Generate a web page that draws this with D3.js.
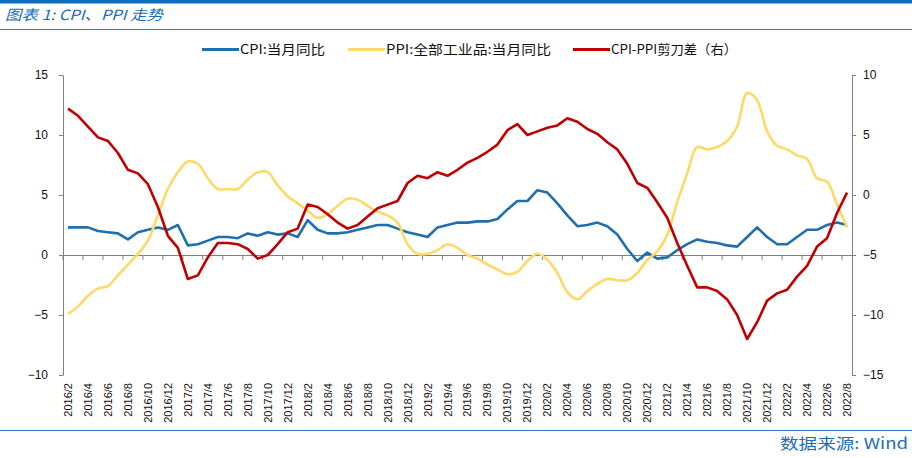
<!DOCTYPE html>
<html>
<head>
<meta charset="utf-8">
<script src="https://cdn.jsdelivr.net/npm/d3@7.9.0/dist/d3.min.js"></script>
<style>
  body { margin: 0; background: #fff; }
  svg { display: block; }
  .axis text { font-family: "Liberation Sans Narrow", "Liberation Sans", Arial, sans-serif; font-size: 12px; fill: #111; }
  .axis path, .axis line { stroke: #808080; }
</style>
</head>
<body>
<svg id="chart" width="912" height="458"></svg>
<script>
const months = [
  '2016/2','2016/3','2016/4','2016/5','2016/6','2016/7','2016/8','2016/9','2016/10','2016/11','2016/12',
  '2017/1','2017/2','2017/3','2017/4','2017/5','2017/6','2017/7','2017/8','2017/9','2017/10','2017/11','2017/12',
  '2018/1','2018/2','2018/3','2018/4','2018/5','2018/6','2018/7','2018/8','2018/9','2018/10','2018/11','2018/12',
  '2019/1','2019/2','2019/3','2019/4','2019/5','2019/6','2019/7','2019/8','2019/9','2019/10','2019/11','2019/12',
  '2020/1','2020/2','2020/3','2020/4','2020/5','2020/6','2020/7','2020/8','2020/9','2020/10','2020/11','2020/12',
  '2021/1','2021/2','2021/3','2021/4','2021/5','2021/6','2021/7','2021/8','2021/9','2021/10','2021/11','2021/12',
  '2022/1','2022/2','2022/3','2022/4','2022/5','2022/6','2022/7','2022/8'
];

const cpi = [
  2.3, 2.3, 2.3, 2.0, 1.9, 1.8, 1.3, 1.9, 2.1, 2.3, 2.1,
  2.5, 0.8, 0.9, 1.2, 1.5, 1.5, 1.4, 1.8, 1.6, 1.9, 1.7, 1.8,
  1.5, 2.9, 2.1, 1.8, 1.8, 1.9, 2.1, 2.3, 2.5, 2.5, 2.2, 1.9,
  1.7, 1.5, 2.3, 2.5, 2.7, 2.7, 2.8, 2.8, 3.0, 3.8, 4.5, 4.5,
  5.4, 5.2, 4.3, 3.3, 2.4, 2.5, 2.7, 2.4, 1.7, 0.5, -0.5, 0.2,
  -0.3, -0.2, 0.4, 0.9, 1.3, 1.1, 1.0, 0.8, 0.7, 1.5, 2.3, 1.5,
  0.9, 0.9, 1.5, 2.1, 2.1, 2.5, 2.7, 2.5
];

const ppi = [
  -4.9, -4.3, -3.4, -2.8, -2.6, -1.7, -0.8, 0.1, 1.2, 3.3, 5.5,
  6.9, 7.8, 7.6, 6.4, 5.5, 5.5, 5.5, 6.3, 6.9, 6.9, 5.8, 4.9,
  4.3, 3.7, 3.1, 3.4, 4.1, 4.7, 4.6, 4.1, 3.6, 3.3, 2.7, 0.9,
  0.1, 0.1, 0.4, 0.9, 0.6, 0.0, -0.3, -0.8, -1.2, -1.6, -1.4, -0.5,
  0.1, -0.4, -1.5, -3.1, -3.7, -3.0, -2.4, -2.0, -2.1, -2.1, -1.5, -0.4,
  0.3, 1.7, 4.4, 6.8, 9.0, 8.8, 9.0, 9.5, 10.7, 13.5, 12.9, 10.3,
  9.1, 8.8, 8.3, 8.0, 6.4, 6.1, 4.2, 2.3
];

const spread = [
  7.2, 6.6, 5.7, 4.8, 4.5, 3.5, 2.1, 1.8, 0.9, -1.0, -3.4,
  -4.4, -7.0, -6.7, -5.2, -4.0, -4.0, -4.1, -4.5, -5.3, -5.0, -4.1, -3.1,
  -2.8, -0.8, -1.0, -1.6, -2.3, -2.8, -2.5, -1.8, -1.1, -0.8, -0.5, 1.0,
  1.6, 1.4, 1.9, 1.6, 2.1, 2.7, 3.1, 3.6, 4.2, 5.4, 5.9, 5.0,
  5.3, 5.6, 5.8, 6.4, 6.1, 5.5, 5.1, 4.4, 3.8, 2.6, 1.0, 0.6,
  -0.6, -1.9, -4.0, -5.9, -7.7, -7.7, -8.0, -8.7, -10.0, -12.0, -10.6, -8.8,
  -8.2, -7.9, -6.8, -5.9, -4.3, -3.6, -1.5, 0.2
];

const leftTicks = [-10, -5, 0, 5, 10, 15];
const rightTicks = [-15, -10, -5, 0, 5, 10];
const tickLabels = months.filter((d, i) => i % 2 === 0);

const series = [
  { name: 'CPI:当月同比', values: cpi, color: '#1f6fae', axis: 'left', smooth: false },
  { name: 'PPI:全部工业品:当月同比', values: ppi, color: '#ffd966', axis: 'left', smooth: true },
  { name: 'CPI-PPI剪刀差（右）', values: spread, color: '#c00000', axis: 'right', smooth: false },
];

const svg = d3.select('#chart');
const blue = '#1d6db8';
const cjk = '"Noto Sans CJK SC", "Noto Sans", sans-serif';

// header / footer bars
svg.append('rect').attr('x', 0).attr('y', 0).attr('width', 912).attr('height', 3.5).attr('fill', '#0b6dc0');
svg.append('line').attr('x1', 0).attr('x2', 912).attr('y1', 29.5).attr('y2', 29.5)
  .attr('stroke', '#2f7cc4').attr('stroke-width', 1);
svg.append('text').attr('x', 5).attr('y', 20)
  .attr('font-family', cjk).attr('font-size', 14).attr('font-style', 'italic')
  .attr('fill', blue)
  .attr('textLength', 158).attr('lengthAdjust', 'spacingAndGlyphs')
  .text('图表 1: CPI、PPI 走势');

svg.append('line').attr('x1', 0).attr('x2', 912).attr('y1', 430.5).attr('y2', 430.5)
  .attr('stroke', '#2f7cc4').attr('stroke-width', 1.2);
svg.append('text').attr('x', 780).attr('y', 448.5)
  .attr('font-family', cjk).attr('font-size', 15).attr('fill', blue)
  .attr('textLength', 128).attr('lengthAdjust', 'spacingAndGlyphs')
  .text('数据来源: Wind');

const plot = { left: 63, right: 852, top: 75, bottom: 375 };

const x = d3.scaleBand().domain(months).range([plot.left, plot.right]);
const cx = (d) => x(d) + x.bandwidth() / 2;
const yL = d3.scaleLinear().domain([-10, 15]).range([plot.bottom, plot.top]);
const yR = d3.scaleLinear().domain([-15, 10]).range([plot.bottom, plot.top]);

// left axis
svg.append('g').attr('class', 'axis')
  .attr('transform', `translate(${plot.left},0)`)
  .call(d3.axisLeft(yL).tickValues(leftTicks).tickSize(4).tickSizeOuter(0).tickPadding(11));

// right axis
svg.append('g').attr('class', 'axis')
  .attr('transform', `translate(${plot.right},0)`)
  .call(d3.axisRight(yR).tickValues(rightTicks).tickSize(4).tickSizeOuter(0).tickPadding(7));

// zero line with ticks
const xAxis = svg.append('g').attr('class', 'axis')
  .attr('transform', `translate(0,${yL(0)})`)
  .call(d3.axisBottom(x).tickValues(tickLabels).tickSize(5).tickSizeOuter(0).tickFormat(''));
xAxis.selectAll('.tick').attr('transform', (d) => `translate(${x(d)},0)`);
xAxis.select('.domain').attr('stroke-width', 1.2);

// rotated month labels along the bottom
svg.append('g').attr('class', 'axis')
  .selectAll('text')
  .data(tickLabels)
  .join('text')
  .attr('transform', (d) => `translate(${cx(d) + 4},383) rotate(-90)`)
  .attr('text-anchor', 'end')
  .style('font-family', 'Liberation Sans, Arial, sans-serif')
  .style('font-size', '11px')
  .text((d) => d);

// lines
series.forEach((s) => {
  const y = s.axis === 'left' ? yL : yR;
  const line = d3.line()
    .x((d, i) => cx(months[i]))
    .y((d) => y(d))
    .curve(s.smooth ? d3.curveCatmullRom.alpha(0.5) : d3.curveLinear);
  svg.append('path')
    .datum(s.values)
    .attr('fill', 'none')
    .attr('stroke', s.color)
    .attr('stroke-width', 2.6)
    .attr('stroke-linejoin', 'round')
    .attr('d', line);
});

// legend
const legendPos = [202, 348, 573];
const legendWidth = [85, 165, 126];
const legend = svg.append('g').attr('transform', 'translate(0,49.5)');
series.forEach((s, i) => {
  const g = legend.append('g').attr('transform', `translate(${legendPos[i]},0)`);
  g.append('line').attr('x1', 0).attr('x2', 37).attr('stroke', s.color).attr('stroke-width', 3);
  g.append('text').attr('x', 38).attr('y', 4.5)
    .attr('font-family', cjk).attr('font-size', 13).attr('fill', '#111')
    .attr('textLength', legendWidth[i]).attr('lengthAdjust', 'spacingAndGlyphs')
    .text(s.name);
});
</script>
</body>
</html>
